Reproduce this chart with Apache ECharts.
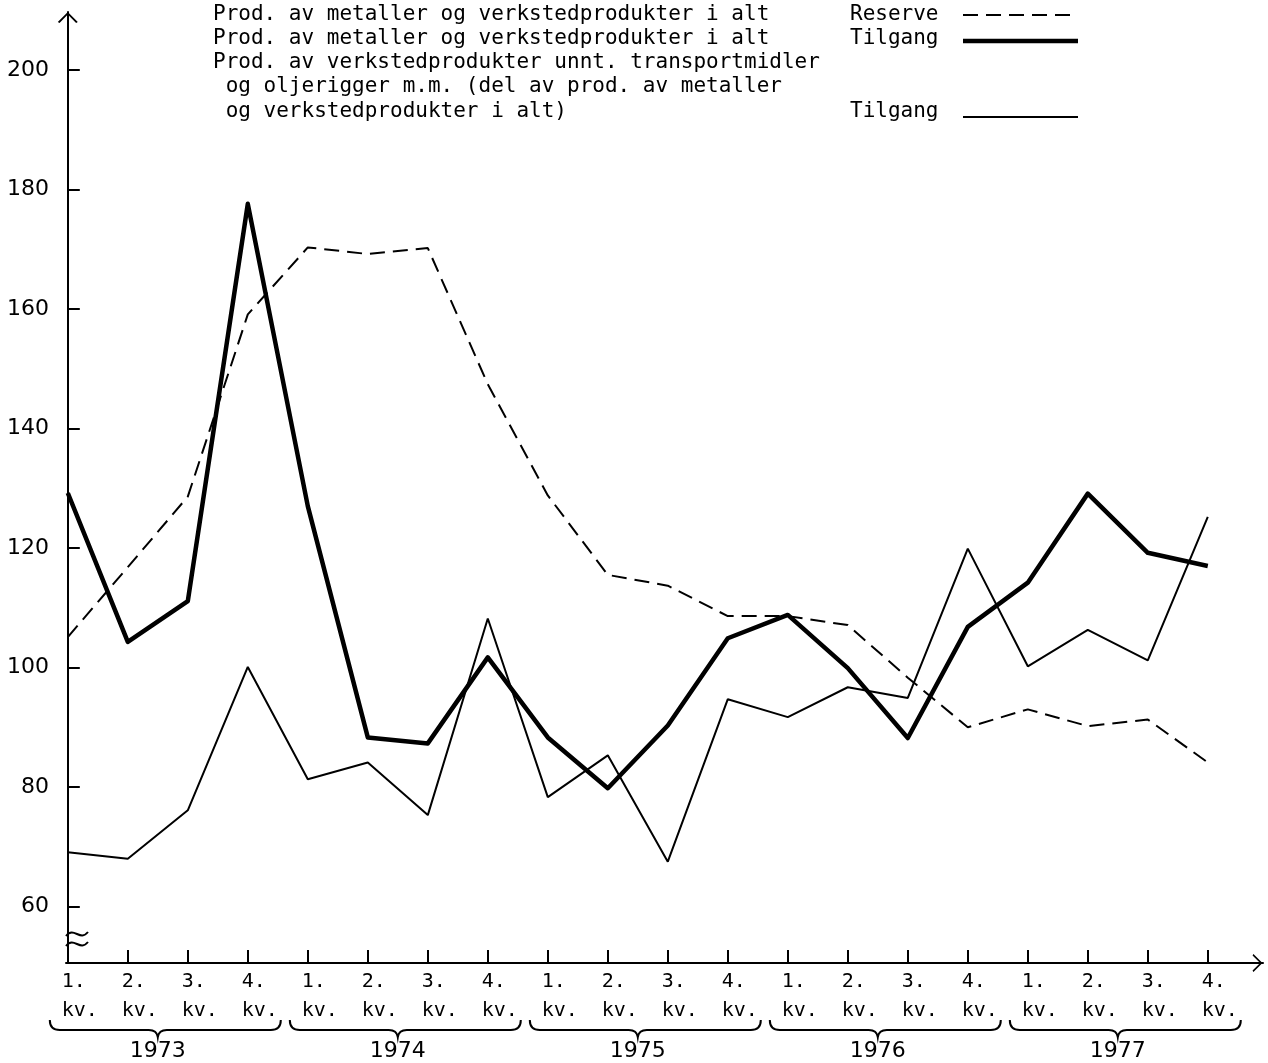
<!DOCTYPE html>
<html>
<head>
<meta charset="utf-8">
<style>html,body{margin:0;padding:0;background:#fff}#chart{width:1268px;height:1063px}</style>
<script src="https://cdn.jsdelivr.net/npm/echarts@6/dist/echarts.min.js"></script>
</head>
<body>
<div id="chart"></div>
<script>
// quarters 1973-1977
const years = ['1973', '1974', '1975', '1976', '1977'];
const quarters = ['1.', '2.', '3.', '4.'];
const categories = years.flatMap(y => quarters.map(q => y + ' ' + q + ' kv.'));

// Prod. av metaller og verkstedprodukter i alt, Reserve (dashed)
const reserve = [105.1, 116.8, 128.6, 159.1, 170.3, 169.2, 170.2, 147.4, 128.8, 115.5,
  113.7, 108.6, 108.6, 107.1, 98.3, 90.0, 93.0, 90.2, 91.3, 84.1];
// Prod. av metaller og verkstedprodukter i alt, Tilgang (thick)
const tilgangTotal = [129.2, 104.3, 111.1, 177.6, 127.0, 88.3, 87.3, 101.7, 88.3, 79.8,
  90.3, 104.9, 108.8, 99.9, 88.2, 106.8, 114.2, 129.1, 119.2, 117.0];
// Prod. av verkstedprodukter unnt. transportmidler ..., Tilgang (thin)
const tilgangVerksted = [69.1, 68.0, 76.1, 100.1, 81.3, 84.1, 75.3, 108.2, 78.3, 85.3,
  67.5, 94.7, 91.7, 96.7, 94.9, 119.9, 100.2, 106.3, 101.2, 125.2];

const yTicks = [60, 80, 100, 120, 140, 160, 180, 200];

const Y_MIN = 50.55, Y_MAX = 209.7;
const X_MIN = -0.03, X_MAX = 19.92;
const LABEL_SHIFT = 0.2; // labels sit a little left of each tick, left aligned
const ink = '#000';
const mono = '"DejaVu Sans Mono", monospace';
const sans = '"DejaVu Sans", sans-serif';
const chevron = 'path://M0,10 L10,0 L20,10 L18.3,11 L10,2.6 L1.7,11 Z';

const toPairs = arr => arr.map((v, i) => [i, v]);
const quarterIdx = categories.map((c, i) => i);
const yearSpans = years.map((y, k) => [k * 4, k * 4 + 3]);

function renderBrace(params, api) {
  const s = api.value(0), e = api.value(1);
  const base = api.coord([s, Y_MIN])[1];
  const x0 = api.coord([s - 0.3, Y_MIN])[0];
  const x1 = api.coord([e + 0.55, Y_MIN])[0];
  const xm = api.coord([s + 1.5, Y_MIN])[0];
  const yTop = base + 57, yMid = base + 67, yTip = base + 74;
  const d = 'M' + x0 + ',' + yTop + ' Q' + x0 + ',' + yMid + ' ' + (x0 + 10) + ',' + yMid +
    ' L' + (xm - 9) + ',' + yMid + ' Q' + (xm - 1) + ',' + yMid + ' ' + xm + ',' + yTip +
    ' Q' + (xm + 1) + ',' + yMid + ' ' + (xm + 9) + ',' + yMid +
    ' L' + (x1 - 10) + ',' + yMid + ' Q' + x1 + ',' + yMid + ' ' + x1 + ',' + yTop;
  return {
    type: 'group',
    children: [
      { type: 'path', shape: { pathData: d }, style: { stroke: ink, fill: null, lineWidth: 2 } },
      {
        type: 'text',
        style: {
          text: years[params.dataIndex], x: xm, y: base + 88,
          align: 'center', verticalAlign: 'middle', font: '22px ' + sans, fill: ink
        }
      }
    ]
  };
}

const chart = echarts.init(document.getElementById('chart'), null, { renderer: 'canvas' });

chart.setOption({
  animation: false,
  backgroundColor: '#fff',
  grid: { left: 66, right: 5, top: 12, bottom: 100 },
  xAxis: {
    type: 'value',
    min: X_MIN,
    max: X_MAX,
    splitLine: { show: false },
    axisLine: {
      lineStyle: { color: ink, width: 2 },
      symbol: ['none', chevron],
      symbolSize: [18, 11],
      symbolOffset: [0, -5.5]
    },
    axisTick: {
      inside: true,
      length: 13,
      lineStyle: { color: ink, width: 2 },
      customValues: quarterIdx.slice(1)
    },
    axisLabel: {
      customValues: quarterIdx.map(i => i + LABEL_SHIFT),
      formatter: v => quarters[Math.floor(v) % 4] + ' \nkv.',
      color: ink,
      fontFamily: mono,
      fontSize: 20,
      lineHeight: 29,
      align: 'center',
      margin: 4
    }
  },
  yAxis: {
    type: 'value',
    min: Y_MIN,
    max: Y_MAX,
    splitLine: { show: false },
    axisLine: {
      show: true,
      lineStyle: { color: ink, width: 2 },
      symbol: ['none', chevron],
      symbolSize: [20, 11],
      symbolOffset: [0, -5.5]
    },
    axisTick: {
      show: true,
      inside: true,
      length: 12,
      lineStyle: { color: ink, width: 2 },
      customValues: yTicks
    },
    axisLabel: {
      customValues: yTicks,
      color: ink,
      fontFamily: sans,
      fontSize: 22,
      margin: 17
    }
  },
  series: [
    {
      name: 'Reserve',
      type: 'line',
      data: toPairs(reserve),
      symbol: 'none',
      lineStyle: { color: ink, width: 2, type: [15, 8] }
    },
    {
      name: 'Tilgang i alt',
      type: 'line',
      data: toPairs(tilgangTotal),
      symbol: 'none',
      lineStyle: { color: ink, width: 4.5, join: 'round' }
    },
    {
      name: 'Tilgang verkstedprodukter',
      type: 'line',
      data: toPairs(tilgangVerksted),
      symbol: 'none',
      lineStyle: { color: ink, width: 2 }
    },
    {
      type: 'custom',
      data: yearSpans,
      renderItem: renderBrace,
      clip: false,
      silent: true
    }
  ],
  graphic: [
    { type: 'text', x: 213, y: 15, style: { text: 'Prod. av metaller og verkstedprodukter i alt', font: '21px ' + mono, fill: ink, verticalAlign: 'middle' } },
    { type: 'text', x: 213, y: 39, style: { text: 'Prod. av metaller og verkstedprodukter i alt', font: '21px ' + mono, fill: ink, verticalAlign: 'middle' } },
    { type: 'text', x: 213, y: 63, style: { text: 'Prod. av verkstedprodukter unnt. transportmidler', font: '21px ' + mono, fill: ink, verticalAlign: 'middle' } },
    { type: 'text', x: 213, y: 87, style: { text: ' og oljerigger m.m. (del av prod. av metaller', font: '21px ' + mono, fill: ink, verticalAlign: 'middle' } },
    { type: 'text', x: 213, y: 112, style: { text: ' og verkstedprodukter i alt)', font: '21px ' + mono, fill: ink, verticalAlign: 'middle' } },
    { type: 'text', x: 850, y: 15, style: { text: 'Reserve', font: '21px ' + mono, fill: ink, verticalAlign: 'middle' } },
    { type: 'text', x: 850, y: 39, style: { text: 'Tilgang', font: '21px ' + mono, fill: ink, verticalAlign: 'middle' } },
    { type: 'text', x: 850, y: 112, style: { text: 'Tilgang', font: '21px ' + mono, fill: ink, verticalAlign: 'middle' } },
    { type: 'line', shape: { x1: 963, y1: 15, x2: 1078, y2: 15 }, style: { stroke: ink, lineWidth: 2, lineDash: [15, 8] } },
    { type: 'line', shape: { x1: 963, y1: 41, x2: 1078, y2: 41 }, style: { stroke: ink, lineWidth: 4.5 } },
    { type: 'line', shape: { x1: 963, y1: 117, x2: 1078, y2: 117 }, style: { stroke: ink, lineWidth: 2 } },
    // axis break marks
    { type: 'bezierCurve', shape: { x1: 66, y1: 936, cpx1: 74, cpy1: 926, cpx2: 80, cpy2: 942, x2: 88, y2: 932 }, style: { stroke: ink, lineWidth: 2, fill: null } },
    { type: 'bezierCurve', shape: { x1: 66, y1: 946, cpx1: 74, cpy1: 936, cpx2: 80, cpy2: 952, x2: 88, y2: 942 }, style: { stroke: ink, lineWidth: 2, fill: null } }
  ]
});
</script>
</body>
</html>
